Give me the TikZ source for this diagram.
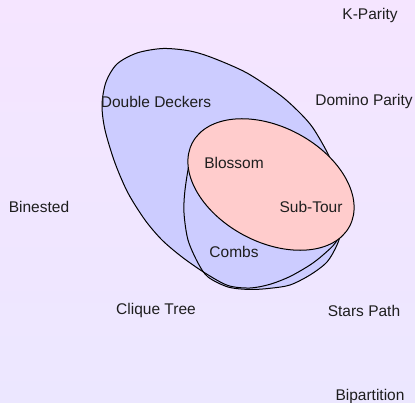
\documentclass[tikz,border=0pt]{standalone}
\usepackage{fontspec}
\setmainfont{Liberation Sans}
\definecolor{bgtop}{RGB}{245,229,255}
\definecolor{bgbot}{RGB}{236,231,255}
\definecolor{setblue}{RGB}{204,204,255}
\definecolor{setpink}{RGB}{255,204,204}
\definecolor{txt}{RGB}{30,30,30}
\tikzset{
  lbl/.style={text=txt, font=\fontsize{15.5}{18}\selectfont, inner sep=0pt, anchor=center},
  outline/.style={draw=black, line width=1pt},
}
\begin{document}
\begin{tikzpicture}[x=1pt,y=-1pt]
\useasboundingbox (0,0) rectangle (415,403);
\shade[top color=bgtop, bottom color=bgbot] (0,0) rectangle (415,403);
% fills
\fill[setblue] plot[smooth cycle] coordinates {(163,48.5) (190,51) (213,58) (247,73) (280,95) (300,113) (313,128) (327,152) (337,175) (342,200) (342,225) (336,242) (323,255) (310,265) (290,276.5) (270,284.3) (250,288) (228,285.5) (205,273) (182,257) (162,240) (145,220) (128,193) (115,163) (105,130) (102,105) (106,82) (117,64) (137,53)};
\fill[setblue] plot[smooth cycle] coordinates {(190,160) (185,190) (184,213) (188,240) (198,263) (208,277) (228,287) (250,289.5) (270,288.3) (290,285) (310,275) (327,262) (337,245) (342,228) (340,210) (322,190) (285,168) (245,150) (212,143) (196,149)};
% outlines
\draw[outline] plot[smooth cycle] coordinates {(163,48.5) (190,51) (213,58) (247,73) (280,95) (300,113) (313,128) (327,152) (337,175) (342,200) (342,225) (336,242) (323,255) (310,265) (290,276.5) (270,284.3) (250,288) (228,285.5) (205,273) (182,257) (162,240) (145,220) (128,193) (115,163) (105,130) (102,105) (106,82) (117,64) (137,53)};
\draw[outline] plot[smooth cycle] coordinates {(190,160) (185,190) (184,213) (188,240) (198,263) (208,277) (228,287) (250,289.5) (270,288.3) (290,285) (310,275) (327,262) (337,245) (342,228) (340,210) (322,190) (285,168) (245,150) (212,143) (196,149)};
% blossom
\draw[outline, fill=setpink, rotate around={-28:(271,184.5)}] (271,184.5) ellipse [x radius=89pt, y radius=57.5pt];
% labels
\node[lbl] (kparity) at (370,15) {K-Parity};
\node[lbl] (dd) at (156,102) {Double Deckers};
\node[lbl] (domino) at (364,101.5) {Domino Parity};
\node[lbl] (blossom) at (234,163) {Blossom};
\node[lbl] (binested) at (39,207) {Binested};
\node[lbl] (subtour) at (311,207) {Sub-Tour};
\node[lbl] (combs) at (234,252) {Combs};
\node[lbl] (clique) at (156,310) {Clique Tree};
\node[lbl] (stars) at (364,311) {Stars Path};
\node[lbl] (bipart) at (370,396) {Bipartition};
\end{tikzpicture}
\end{document}
